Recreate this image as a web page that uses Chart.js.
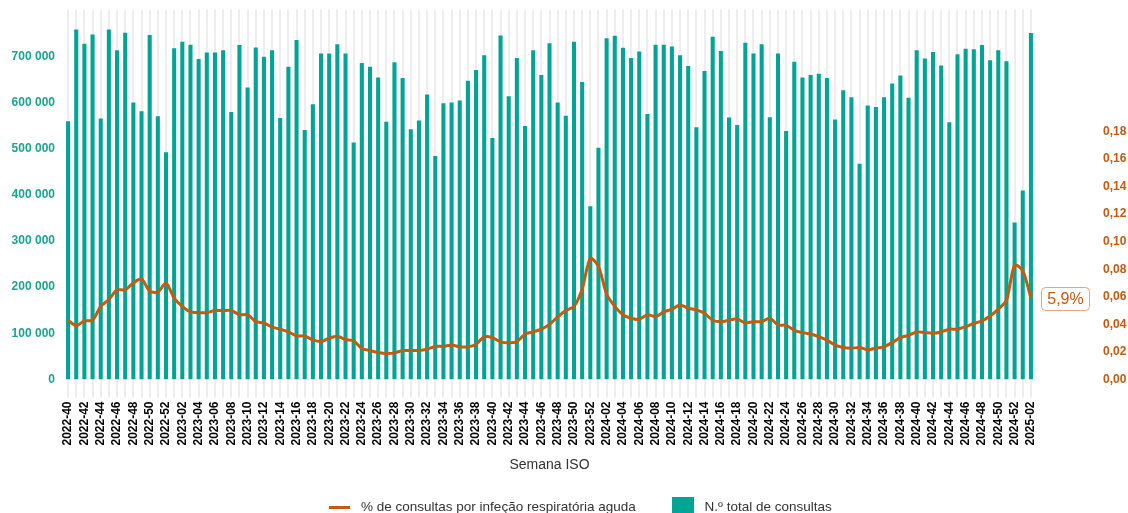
<!DOCTYPE html>
<html lang="pt">
<head>
<meta charset="utf-8">
<title>Consultas por semana ISO</title>
<script src="https://cdn.jsdelivr.net/npm/chart.js@4.4.1/dist/chart.umd.min.js"></script>
<style>
  html, body { margin: 0; padding: 0; background: #fff; overflow: hidden; }
  #wrap { width: 1128px; height: 524px; }
</style>
</head>
<body>
<div id="wrap"><canvas id="chart" width="1128" height="524"></canvas></div>
<script>
// semanas ISO (categorias)
var weeks2022 = ['2022-40','2022-41','2022-42','2022-43','2022-44','2022-45','2022-46','2022-47','2022-48','2022-49','2022-50','2022-51','2022-52'];
var weeks2023 = ['2023-01','2023-02','2023-03','2023-04','2023-05','2023-06','2023-07','2023-08','2023-09','2023-10',
  '2023-11','2023-12','2023-13','2023-14','2023-15','2023-16','2023-17','2023-18','2023-19','2023-20',
  '2023-21','2023-22','2023-23','2023-24','2023-25','2023-26','2023-27','2023-28','2023-29','2023-30',
  '2023-31','2023-32','2023-33','2023-34','2023-35','2023-36','2023-37','2023-38','2023-39','2023-40',
  '2023-41','2023-42','2023-43','2023-44','2023-45','2023-46','2023-47','2023-48','2023-49','2023-50',
  '2023-51','2023-52'];
var weeks2024 = ['2024-01','2024-02','2024-03','2024-04','2024-05','2024-06','2024-07','2024-08','2024-09','2024-10',
  '2024-11','2024-12','2024-13','2024-14','2024-15','2024-16','2024-17','2024-18','2024-19','2024-20',
  '2024-21','2024-22','2024-23','2024-24','2024-25','2024-26','2024-27','2024-28','2024-29','2024-30',
  '2024-31','2024-32','2024-33','2024-34','2024-35','2024-36','2024-37','2024-38','2024-39','2024-40',
  '2024-41','2024-42','2024-43','2024-44','2024-45','2024-46','2024-47','2024-48','2024-49','2024-50',
  '2024-51','2024-52'];
var weeks2025 = ['2025-01','2025-02'];

// N.º total de consultas
var consultas2022 = [559000, 758000, 727000, 747000, 565000, 758000, 713000, 751000, 600000, 581000, 746000, 570000, 492000];
var consultas2023 = [717000, 731000, 725000, 694000, 708000, 708000, 713000, 579000, 724000, 632000,
  719000, 699000, 713000, 566000, 677000, 735000, 540000, 596000, 706000, 706000,
  726000, 706000, 513000, 685000, 677000, 654000, 558000, 687000, 653000, 542000,
  561000, 617000, 484000, 598000, 600000, 604000, 647000, 670000, 702000, 523000,
  745000, 613000, 696000, 549000, 713000, 659000, 728000, 600000, 571000, 731000,
  644000, 375000];
var consultas2024 = [502000, 739000, 744000, 718000, 696000, 710000, 575000, 725000, 725000, 721000,
  702000, 679000, 546000, 668000, 742000, 711000, 567000, 551000, 729000, 706000,
  726000, 568000, 706000, 538000, 688000, 654000, 659000, 662000, 653000, 563000,
  626000, 611000, 467000, 593000, 590000, 611000, 641000, 658000, 610000, 713000,
  695000, 709000, 680000, 557000, 704000, 716000, 715000, 724000, 691000, 713000,
  689000, 340000];
var consultas2025 = [409000, 750000];

// % de consultas por infeção respiratória aguda
var ira2022 = [0.043, 0.039, 0.0425, 0.043, 0.053, 0.058, 0.065, 0.065, 0.070, 0.073, 0.064, 0.0635, 0.070];
var ira2023 = [0.059, 0.053, 0.049, 0.0485, 0.0485, 0.050, 0.050, 0.050, 0.047, 0.047,
  0.042, 0.041, 0.038, 0.0365, 0.0345, 0.0316, 0.0316, 0.0287, 0.0275, 0.030,
  0.0314, 0.029, 0.028, 0.0225, 0.021, 0.0196, 0.0188, 0.0193, 0.021, 0.021,
  0.021, 0.022, 0.024, 0.024, 0.025, 0.0237, 0.0237, 0.0256, 0.031, 0.0304,
  0.0273, 0.0266, 0.0275, 0.033, 0.0345, 0.0365, 0.040, 0.0454, 0.050, 0.053,
  0.0655, 0.088];
var ira2024 = [0.082, 0.062, 0.053, 0.047, 0.0444, 0.0437, 0.047, 0.0456, 0.049, 0.051,
  0.054, 0.0517, 0.0505, 0.048, 0.043, 0.042, 0.043, 0.044, 0.041, 0.042,
  0.042, 0.0444, 0.0396, 0.0393, 0.0357, 0.034, 0.033, 0.031, 0.0285, 0.025,
  0.0232, 0.0227, 0.0232, 0.0215, 0.0227, 0.0237, 0.0268, 0.0304, 0.032, 0.0345,
  0.034, 0.0336, 0.0345, 0.0365, 0.0365, 0.0384, 0.0406, 0.0425, 0.046, 0.051,
  0.0575, 0.083];
var ira2025 = [0.079, 0.059];

// marcas dos eixos
var leftTicks = [0, 100000, 200000, 300000, 400000, 500000, 600000, 700000];
var rightTicks = [0, 0.02, 0.04, 0.06, 0.08, 0.10, 0.12, 0.14, 0.16, 0.18];

var weekLabels = weeks2022.concat(weeks2023, weeks2024, weeks2025);
var totalConsultas = consultas2022.concat(consultas2023, consultas2024, consultas2025);
var pctIRA = ira2022.concat(ira2023, ira2024, ira2025);

var BAR_COLOR = '#00a693';
var LINE_COLOR = '#c55a11';
var FONT = '"Liberation Sans", Arial, sans-serif';

Chart.defaults.font.family = FONT;

function formatThousands(v) {
  return String(v).replace(/\B(?=(\d{3})+(?!\d))/g, ' ');
}

// amostras da legenda
function swatch(w, h, color) {
  var c = document.createElement('canvas');
  c.width = w;
  c.height = h;
  var g = c.getContext('2d');
  g.fillStyle = color;
  g.fillRect(0, 0, w, h);
  return c;
}
var legendSquare = swatch(22, 20, BAR_COLOR);
var legendLine = swatch(21, 3, LINE_COLOR);

// etiqueta com o último valor da linha
var lastValueTag = {
  id: 'lastValueTag',
  afterDatasetsDraw: function(chart) {
    var meta = chart.getDatasetMeta(0);
    var pt = meta.data[meta.data.length - 1];
    if (!pt) return;
    var val = pctIRA[pctIRA.length - 1];
    var txt = (val * 100).toFixed(1).replace('.', ',') + '%';
    var ctx = chart.ctx;
    ctx.save();
    ctx.font = '16px ' + FONT;
    var w = Math.round(ctx.measureText(txt).width + 12);
    var h = 23;
    var x = Math.round(pt.x + 10) + 0.5;
    var y = Math.round(pt.y - h / 2) + 0.5;
    ctx.beginPath();
    ctx.roundRect(x, y, w, h, 4);
    ctx.fillStyle = '#ffffff';
    ctx.fill();
    ctx.strokeStyle = '#e3a57d';
    ctx.lineWidth = 1;
    ctx.stroke();
    ctx.fillStyle = LINE_COLOR;
    ctx.textAlign = 'center';
    ctx.textBaseline = 'middle';
    ctx.fillText(txt, x + w / 2, y + h / 2 + 1);
    ctx.restore();
  }
};

new Chart(document.getElementById('chart'), {
  type: 'bar',
  data: {
    labels: weekLabels,
    datasets: [{
      type: 'line',
      label: '% de consultas por infeção respiratória aguda',
      data: pctIRA,
      yAxisID: 'y1',
      borderColor: LINE_COLOR,
      backgroundColor: LINE_COLOR,
      borderWidth: 3,
      pointRadius: 0,
      pointStyle: legendLine,
      tension: 0.25,
      fill: false,
      order: 0
    }, {
      type: 'bar',
      label: 'N.º total de consultas',
      data: totalConsultas,
      yAxisID: 'y',
      backgroundColor: BAR_COLOR,
      borderWidth: 0,
      pointStyle: legendSquare,
      barPercentage: 0.5,
      categoryPercentage: 1,
      order: 1
    }]
  },
  options: {
    responsive: false,
    animation: false,
    devicePixelRatio: 1,
    layout: { padding: { left: 8, right: -20, top: 10, bottom: 0 } },
    plugins: {
      legend: {
        position: 'bottom',
        labels: {
          usePointStyle: true,
          pointStyleWidth: 30,
          padding: 32,
          color: '#333333',
          font: { size: 13.5 }
        }
      },
      tooltip: { enabled: false }
    },
    scales: {
      x: {
        offset: true,
        grid: { offset: false, color: '#eeeeee', lineWidth: 2, drawTicks: true, tickLength: 18, tickColor: '#eeeeee' },
        border: { display: false },
        ticks: {
          autoSkip: false,
          maxRotation: 90,
          minRotation: 90,
          padding: 4,
          color: '#000000',
          font: { size: 12, weight: 'bold' },
          callback: function(v, i) { return i % 2 === 0 ? this.getLabelForValue(v) : ''; }
        },
        title: { display: true, text: 'Semana ISO', color: '#333333', font: { size: 14 }, padding: { top: 0, bottom: -5 } },
        afterFit: function(s) { s.height = 89; }
      },
      y: {
        position: 'left',
        min: 0,
        max: 800000,
        grid: { display: false, drawTicks: true, tickLength: 9 },
        border: { display: false },
        afterBuildTicks: function(s) { s.ticks = leftTicks.map(function(v) { return { value: v }; }); },
        ticks: {
          padding: 0,
          color: '#1ba591',
          font: { size: 12, weight: 'bold' },
          callback: function(v) { return formatThousands(v); }
        },
        afterFit: function(s) { s.width = 56; }
      },
      y1: {
        position: 'right',
        min: 0,
        max: 0.268,
        grid: { display: false, drawTicks: true, tickLength: 68 },
        border: { display: false },
        afterBuildTicks: function(s) { s.ticks = rightTicks.map(function(v) { return { value: v }; }); },
        ticks: {
          padding: 0,
          color: LINE_COLOR,
          font: { size: 12, weight: 'bold' },
          callback: function(v) { return v.toFixed(2).replace('.', ','); }
        },
        afterFit: function(s) { s.width = 113; }
      }
    }
  },
  plugins: [lastValueTag]
});
</script>
</body>
</html>
